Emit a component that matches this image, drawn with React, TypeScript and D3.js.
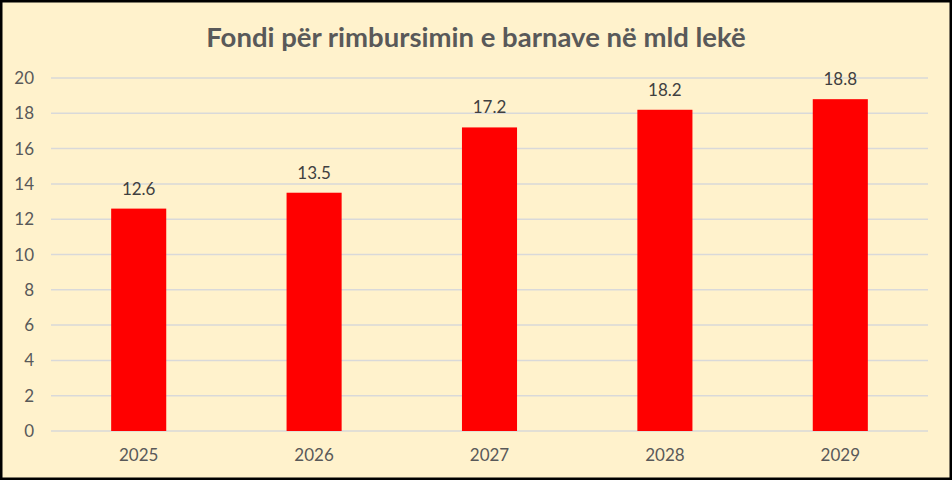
import React from "react";
import * as d3 from "d3";

// chart data
const years: string[] = ["2025", "2026", "2027", "2028", "2029"];
const fund: number[] = [12.6, 13.5, 17.2, 18.2, 18.8];
const yTicks: number[] = [0, 2, 4, 6, 8, 10, 12, 14, 16, 18, 20];
const title = "Fondi për rimbursimin e barnave në mld lekë";

const width = 952;
const height = 480;
const margin = { top: 78, right: 24, bottom: 49, left: 51 };
const font = "Lato, 'Open Sans', sans-serif";

const App: React.FC = () => {
    const innerWidth = width - margin.left - margin.right;
    const innerHeight = height - margin.top - margin.bottom;

    const xScale = d3.scaleBand<string>().domain(years).range([0, innerWidth]).padding(0);
    const yScale = d3.scaleLinear().domain([0, 20]).range([innerHeight, 0]);

    const barWidth = xScale.bandwidth() * 0.314;

    return (
        <svg
            width={width}
            height={height}
            style={{ position: "absolute", left: 0, top: 0 }}
        >
            <rect
                x={1.25}
                y={1.25}
                width={width - 2.5}
                height={height - 2.5}
                fill="#FFF2CC"
                stroke="#000"
                strokeWidth={2.5}
            />
            <text
                x={width / 2}
                y={47}
                textAnchor="middle"
                fontFamily={font}
                fontWeight="bold"
                fontSize={27.5}
                fill="#595959"
            >
                {title}
            </text>
            <g transform={`translate(${margin.left},${margin.top})`}>
                {/* gridlines and y tick labels */}
                {yTicks.map(t => (
                    <g key={t}>
                        <line
                            x1={0}
                            x2={innerWidth}
                            y1={yScale(t)}
                            y2={yScale(t)}
                            stroke="#D9D9D9"
                            strokeWidth={1.5}
                        />
                        <text
                            x={-17}
                            y={yScale(t) + 6}
                            textAnchor="end"
                            fontFamily={font}
                            fontSize={17}
                            fill="#595959"
                        >
                            {t}
                        </text>
                    </g>
                ))}

                {/* bars */}
                {years.map((yr, i) => {
                    const cx = xScale(yr)! + xScale.bandwidth() / 2;
                    const v = fund[i];
                    return (
                        <g key={yr}>
                            <rect
                                x={cx - barWidth / 2}
                                y={yScale(v)}
                                width={barWidth}
                                height={innerHeight - yScale(v)}
                                fill="#FF0000"
                            />
                            <text
                                x={cx}
                                y={yScale(v) - 14}
                                textAnchor="middle"
                                fontFamily={font}
                                fontSize={17}
                                fill="#404040"
                            >
                                {v.toFixed(1)}
                            </text>
                            <text
                                x={cx}
                                y={innerHeight + 30}
                                textAnchor="middle"
                                fontFamily={font}
                                fontSize={17}
                                fill="#595959"
                            >
                                {yr}
                            </text>
                        </g>
                    );
                })}
            </g>
        </svg>
    );
};

export default App;
